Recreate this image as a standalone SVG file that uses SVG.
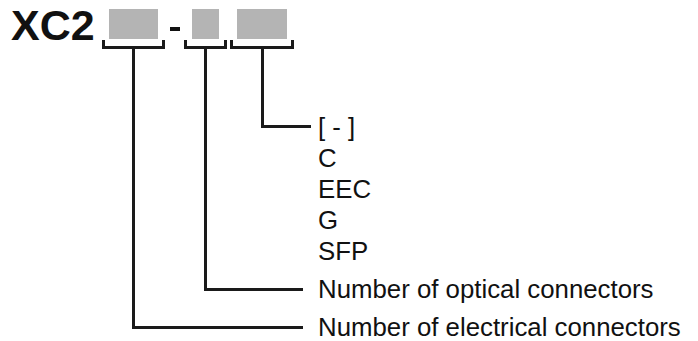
<svg xmlns="http://www.w3.org/2000/svg" width="698" height="341" viewBox="0 0 698 341">
<style>
.t{font-family:"Liberation Sans",Arial,sans-serif;font-size:25.8px;fill:#111}
.b{fill:#b4b4b4}
.c{fill:none;stroke:#1a1a1a;stroke-width:3}
</style>
<rect width="698" height="341" fill="#fff"/>
<g id="code">
<text x="11" y="40" font-family="'Liberation Sans',Arial,sans-serif" font-weight="bold" font-size="43" fill="#111">XC2</text>
<rect class="b" x="109" y="9" width="49" height="30"/>
<rect x="170" y="27" width="10" height="4" fill="#111"/>
<rect class="b" x="192" y="9" width="27" height="30"/>
<rect class="b" x="237" y="9" width="50" height="30"/>
</g>
<g id="connectors">
<path class="c" d="M103.5 40V47.5H163.5V40M133.5 47.5V327.5H303"/>
<path class="c" d="M185.5 40V47.5H225.5V40M205.5 47.5V289.5H303"/>
<path class="c" d="M231.5 40V47.5H292.5V40M262.5 47.5V126.5H311"/>
</g>
<g id="options">
<text class="t" x="318" y="136" xml:space="preserve">[ - ]</text>
<text class="t" x="318" y="167">C</text>
<text class="t" x="318" y="198">EEC</text>
<text class="t" x="318" y="229">G</text>
<text class="t" x="318" y="260">SFP</text>
</g>
<g id="labels">
<text class="t" x="318" y="298">Number of optical connectors</text>
<text class="t" x="318" y="336">Number of electrical connectors</text>
</g>
</svg>
